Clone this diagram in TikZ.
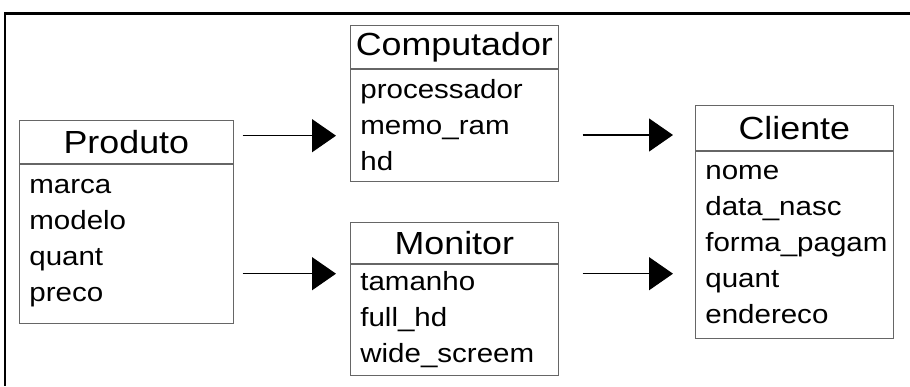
\documentclass[tikz,border=0pt]{standalone}
\usepackage{fontspec}
\setmainfont{Liberation Sans}[FakeStretch=1.12]
\usetikzlibrary{arrows.meta}
\newcommand\cabfont{\fontsize{18.2}{21}\selectfont}
\newcommand\atrfont{\fontsize{15}{20.5}\selectfont}
\begin{document}
\begin{tikzpicture}[x=0.02cm, y=-0.02cm,
  classe/.style={draw=black!60, anchor=north west, minimum width=#1, minimum height=0.86cm, inner sep=0pt, font=\cabfont},
  atrib/.style={draw=black!60, anchor=north west, text width=#1, align=left, inner xsep=0.2cm, inner ysep=0pt, font=\atrfont},
  link/.style={line width=0.75pt, -{Triangle[length=0.48cm, width=0.66cm]}}]
\useasboundingbox (0,0) rectangle (910,386);
\draw[line width=0.06cm] (910,13) -- (5,13) -- (5,386);

\node[classe=4.28cm] (produto) at (19,120) {Produto};
\node[atrib=3.88cm, minimum height=3.18cm] (produto-attr) at (produto.south west) {marca\\ modelo\\ quant\\ preco};

\node[classe=4.16cm] (computador) at (350,25) {Computador};
\node[atrib=3.76cm, minimum height=2.24cm] (computador-attr) at (computador.south west) {processador\\ memo\_ram\\ hd};

\node[classe=4.16cm, minimum height=0.82cm] (monitor) at (350,222) {Monitor};
\node[atrib=3.76cm, minimum height=2.22cm] (monitor-attr) at (monitor.south west) {tamanho\\ full\_hd\\ wide\_screem};

\node[classe=3.96cm, minimum height=0.9cm] (cliente) at (695,105) {Cliente};
\node[atrib=3.56cm, minimum height=3.74cm] (cliente-attr) at (cliente.south west) {nome\\ data\_nasc\\ forma\_pagam\\ quant\\ endereco};

\coordinate (ponta1) at ([shift={(-14,67)}]computador-attr.north west);
\coordinate (ponta2) at ([shift={(-14,10)}]monitor-attr.north west);
\coordinate (ponta3) at ([shift={(-22,30)}]cliente.north west);
\coordinate (ponta4) at ([shift={(-22,123)}]cliente-attr.north west);

\path[draw,link] ([xshift=0.18cm]produto.east |- ponta1) -- (ponta1);
\path[draw,link] ([xshift=0.18cm]produto-attr.east |- ponta2) -- (ponta2);
\path[draw,link] ([xshift=0.48cm]computador-attr.east |- ponta3) -- (ponta3);
\path[draw,link] ([xshift=0.48cm]monitor-attr.east |- ponta4) -- (ponta4);
\end{tikzpicture}
\end{document}
